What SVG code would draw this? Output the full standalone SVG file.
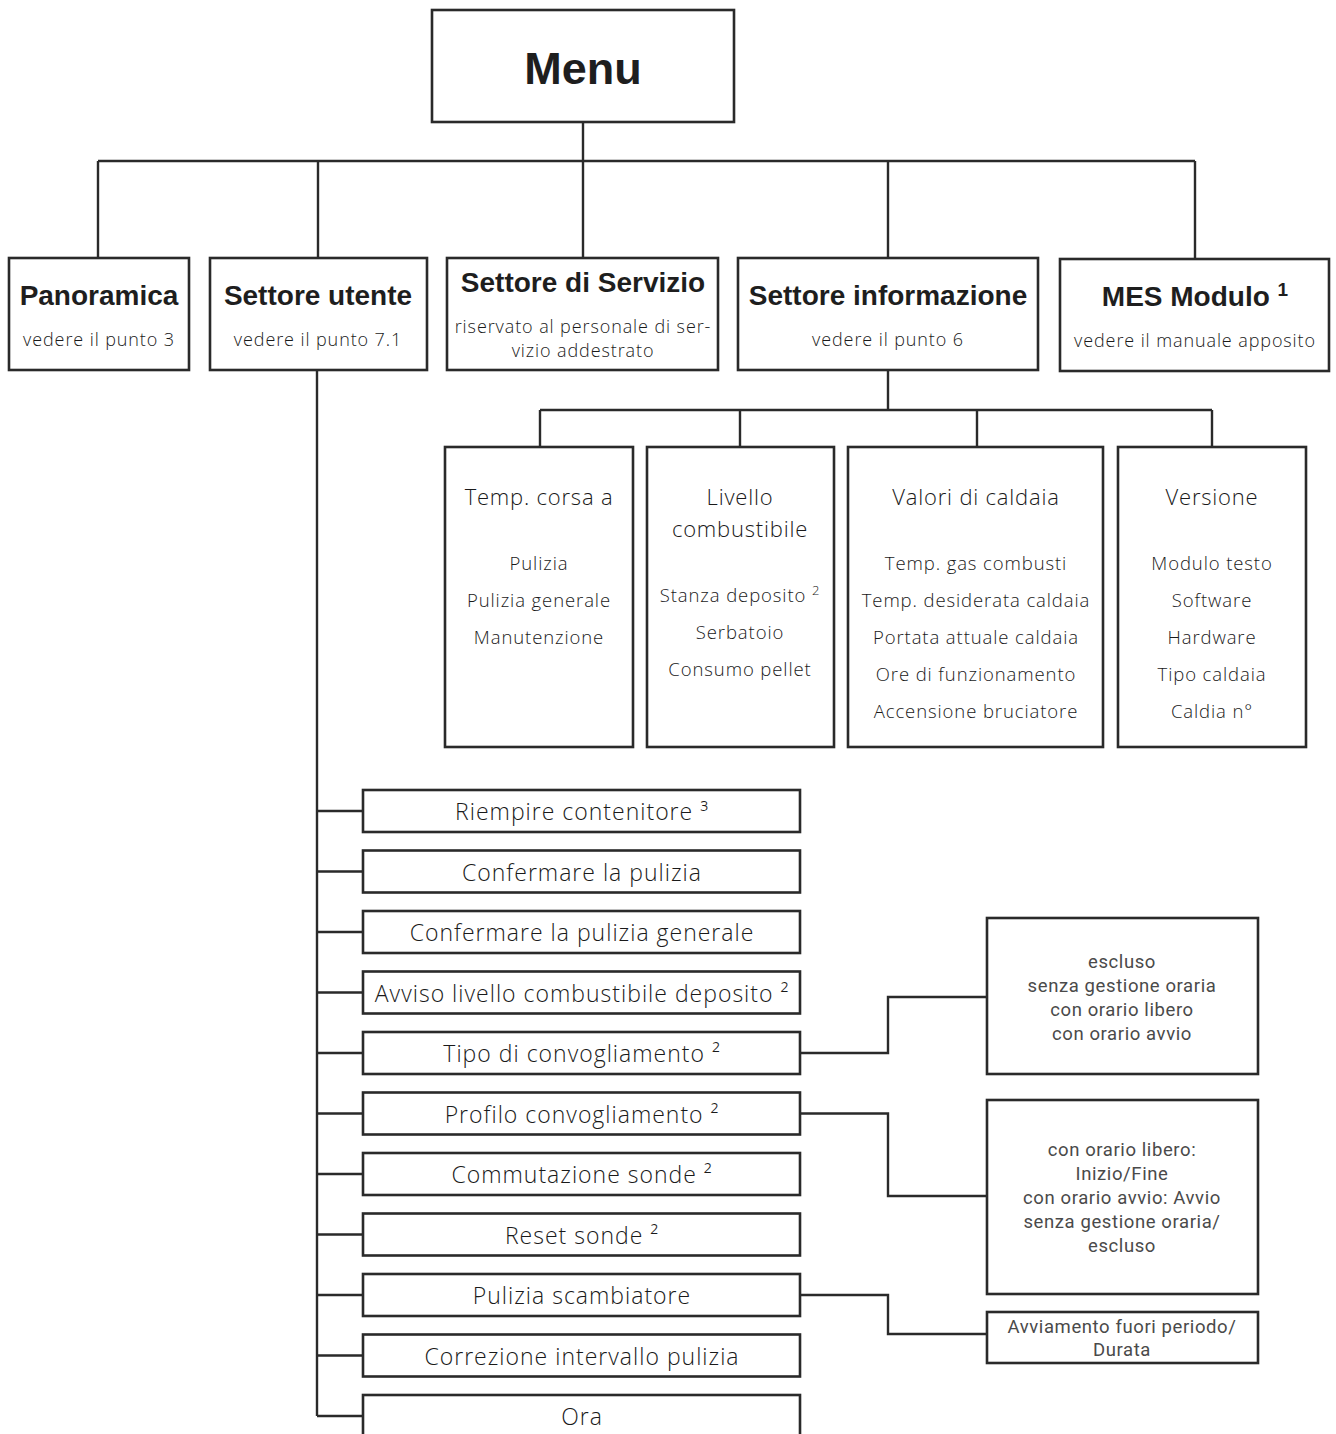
<svg xmlns="http://www.w3.org/2000/svg" width="1336" height="1434" viewBox="0 0 1336 1434">
<style>
.box{fill:#fff;stroke:#2a2a2a;stroke-width:2.6}
.ln{fill:none;stroke:#2a2a2a;stroke-width:2.4}
.menu{font-family:"Liberation Sans",Arial,sans-serif;font-weight:bold;font-size:45px;fill:#1e1e1e;text-anchor:middle}
.h1{font-family:"Liberation Sans",Arial,sans-serif;font-weight:bold;font-size:28px;fill:#1e1e1e;text-anchor:middle}
.sub{font-family:"Open Sans",sans-serif;font-weight:300;font-size:18px;fill:#1a1a1a;text-anchor:middle;letter-spacing:0.9px}
.t2{font-family:"Open Sans",sans-serif;font-weight:300;font-size:22px;fill:#1a1a1a;text-anchor:middle;letter-spacing:0.8px}
.it{font-family:"Open Sans",sans-serif;font-weight:300;font-size:18.5px;fill:#1a1a1a;text-anchor:middle;letter-spacing:0.9px}
.li{font-family:"Open Sans",sans-serif;font-weight:300;font-size:23px;fill:#1a1a1a;text-anchor:middle;letter-spacing:1px}
.rt{font-family:Roboto,"Liberation Sans",sans-serif;font-weight:400;font-size:18.5px;fill:#4a4a4a;text-anchor:middle;letter-spacing:0.6px}
</style>
<g id="connectors">
<path class="ln" d="M583 122V161M98 161H1195M98 161V258M318 161V258M583 161V258M888 161V258M1195 161V259"/>
<path class="ln" d="M888 370V410M540 410H1212M540 410V447M740 410V447M977 410V447M1212 410V447"/>
<path class="ln" d="M317 370V1416"/>
<path class="ln" d="M317 811H363M317 871.5H363M317 932H363M317 992.5H363M317 1053H363M317 1113.5H363M317 1174H363M317 1234.5H363M317 1295H363M317 1355.5H363M317 1416H363"/>
<path class="ln" d="M800 1053H888V997H987M800 1113.5H888V1196H987M800 1295H888V1334H987"/>
</g>
<g id="menu"><rect class="box" x="432" y="10" width="302" height="112"/><text class="menu" x="583" y="84">Menu</text></g>
<g id="panoramica"><rect class="box" x="9" y="258" width="180" height="112"/><text class="h1" x="99" y="305">Panoramica</text><text class="sub" x="99" y="346">vedere il punto 3</text></g>
<g id="settore-utente"><rect class="box" x="210" y="258" width="217" height="112"/><text class="h1" x="318" y="305">Settore utente</text><text class="sub" x="318" y="346">vedere il punto 7.1</text></g>
<g id="settore-servizio"><rect class="box" x="447" y="258" width="271" height="112"/><text class="h1" x="583" y="292">Settore di Servizio</text><text class="sub" x="583" y="333">riservato al personale di ser-</text><text class="sub" x="583" y="357">vizio addestrato</text></g>
<g id="settore-informazione"><rect class="box" x="738" y="258" width="300" height="112"/><text class="h1" x="888" y="305">Settore informazione</text><text class="sub" x="888" y="346">vedere il punto 6</text></g>
<g id="mes-modulo"><rect class="box" x="1060" y="259" width="269" height="112"/><text class="h1" x="1195" y="306">MES Modulo <tspan font-size="19" dy="-10">1</tspan></text><text class="sub" x="1195" y="347">vedere il manuale apposito</text></g>
<g id="temp-corsa"><rect class="box" x="445" y="447" width="188" height="300"/><text class="t2" x="539" y="505">Temp. corsa a</text><text class="it" x="539" y="570">Pulizia</text><text class="it" x="539" y="607">Pulizia generale</text><text class="it" x="539" y="644">Manutenzione</text></g>
<g id="livello"><rect class="box" x="647" y="447" width="187" height="300"/><text class="t2" x="740" y="505">Livello</text><text class="t2" x="740" y="537">combustibile</text><text class="it" x="740" y="602">Stanza deposito <tspan font-size="13" dy="-7">2</tspan></text><text class="it" x="740" y="639">Serbatoio</text><text class="it" x="740" y="676">Consumo pellet</text></g>
<g id="valori"><rect class="box" x="848" y="447" width="255" height="300"/><text class="t2" x="976" y="505">Valori di caldaia</text><text class="it" x="976" y="570">Temp. gas combusti</text><text class="it" x="976" y="607">Temp. desiderata caldaia</text><text class="it" x="976" y="644">Portata attuale caldaia</text><text class="it" x="976" y="681">Ore di funzionamento</text><text class="it" x="976" y="718">Accensione bruciatore</text></g>
<g id="versione"><rect class="box" x="1118" y="447" width="188" height="300"/><text class="t2" x="1212" y="505">Versione</text><text class="it" x="1212" y="570">Modulo testo</text><text class="it" x="1212" y="607">Software</text><text class="it" x="1212" y="644">Hardware</text><text class="it" x="1212" y="681">Tipo caldaia</text><text class="it" x="1212" y="718">Caldia n°</text></g>
<g id="riempire"><rect class="box" x="363" y="790" width="437" height="42"/><text class="li" x="582" y="820">Riempire contenitore ³</text></g>
<g id="conf-pulizia"><rect class="box" x="363" y="850.5" width="437" height="42"/><text class="li" x="582" y="880.5">Confermare la pulizia</text></g>
<g id="conf-pulizia-gen"><rect class="box" x="363" y="911" width="437" height="42"/><text class="li" x="582" y="941">Confermare la pulizia generale</text></g>
<g id="avviso"><rect class="box" x="363" y="971.5" width="437" height="42"/><text class="li" x="582" y="1001.5">Avviso livello combustibile deposito ²</text></g>
<g id="tipo"><rect class="box" x="363" y="1032" width="437" height="42"/><text class="li" x="582" y="1062">Tipo di convogliamento ²</text></g>
<g id="profilo"><rect class="box" x="363" y="1092.5" width="437" height="42"/><text class="li" x="582" y="1122.5">Profilo convogliamento ²</text></g>
<g id="commutazione"><rect class="box" x="363" y="1153" width="437" height="42"/><text class="li" x="582" y="1183">Commutazione sonde ²</text></g>
<g id="reset"><rect class="box" x="363" y="1213.5" width="437" height="42"/><text class="li" x="582" y="1243.5">Reset sonde ²</text></g>
<g id="pulizia-scamb"><rect class="box" x="363" y="1274" width="437" height="42"/><text class="li" x="582" y="1304">Pulizia scambiatore</text></g>
<g id="correzione"><rect class="box" x="363" y="1334.5" width="437" height="42"/><text class="li" x="582" y="1364.5">Correzione intervallo pulizia</text></g>
<g id="ora"><rect class="box" x="363" y="1395" width="437" height="60"/><text class="li" x="582" y="1425">Ora</text></g>
<g id="tipo-opzioni"><rect class="box" x="987" y="918" width="271" height="156"/><text class="rt" x="1122" y="968">escluso</text><text class="rt" x="1122" y="992">senza gestione oraria</text><text class="rt" x="1122" y="1016">con orario libero</text><text class="rt" x="1122" y="1040">con orario avvio</text></g>
<g id="profilo-opzioni"><rect class="box" x="987" y="1100" width="271" height="194"/><text class="rt" x="1122" y="1156">con orario libero:</text><text class="rt" x="1122" y="1180">Inizio/Fine</text><text class="rt" x="1122" y="1204">con orario avvio: Avvio</text><text class="rt" x="1122" y="1228">senza gestione oraria/</text><text class="rt" x="1122" y="1252">escluso</text></g>
<g id="scamb-opzioni"><rect class="box" x="987" y="1312" width="271" height="51"/><text class="rt" x="1122" y="1333">Avviamento fuori periodo/</text><text class="rt" x="1122" y="1356">Durata</text></g>
</svg>
